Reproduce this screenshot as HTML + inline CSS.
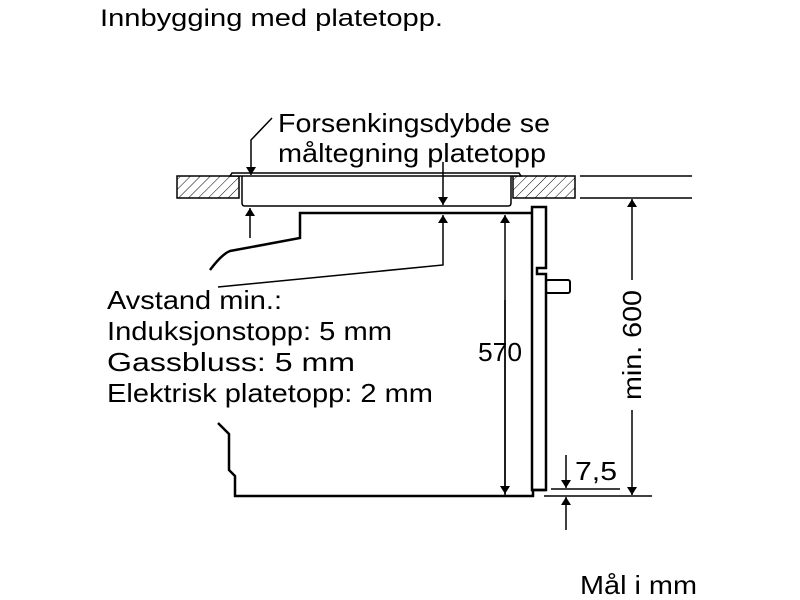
<!DOCTYPE html>
<html><head><meta charset="utf-8"><style>body{margin:0;background:#fff}svg{display:block}</style></head>
<body>
<svg width="800" height="600" viewBox="0 0 800 600" xmlns="http://www.w3.org/2000/svg" font-family="Liberation Sans, sans-serif" fill="#000">
<defs>
<pattern id="h" width="7" height="7" patternUnits="userSpaceOnUse" patternTransform="rotate(45)">
<rect width="7" height="7" fill="#fff"/><line x1="0" y1="0" x2="0" y2="7" stroke="#000" stroke-width="1"/>
</pattern>
<marker id="a" markerWidth="8" markerHeight="12" refX="8" refY="6" orient="auto" markerUnits="userSpaceOnUse"><path d="M0,1 L8,6 L0,11 z"/></marker>
</defs>
<g>
<text x="100" y="26" font-size="24" textLength="343" lengthAdjust="spacingAndGlyphs">Innbygging med platetopp.</text>
<text x="278" y="132" font-size="26" textLength="272" lengthAdjust="spacingAndGlyphs">Forsenkingsdybde se</text>
<text x="278" y="162" font-size="26" textLength="268" lengthAdjust="spacingAndGlyphs">måltegning platetopp</text>
<text x="107" y="309" font-size="26" textLength="175" lengthAdjust="spacingAndGlyphs">Avstand min.:</text>
<text x="107" y="340" font-size="26" textLength="285" lengthAdjust="spacingAndGlyphs">Induksjonstopp: 5 mm</text>
<text x="107" y="371" font-size="26" textLength="248" lengthAdjust="spacingAndGlyphs">Gassbluss: 5 mm</text>
<text x="107" y="402" font-size="26" textLength="326" lengthAdjust="spacingAndGlyphs">Elektrisk platetopp: 2 mm</text>
<text x="478" y="361" font-size="26" textLength="44" lengthAdjust="spacingAndGlyphs">570</text>
<text x="575" y="480" font-size="26" textLength="42" lengthAdjust="spacingAndGlyphs">7,5</text>
<text transform="translate(641,400) rotate(-90)" font-size="26" textLength="110" lengthAdjust="spacingAndGlyphs">min. 600</text>
<text x="580" y="594" font-size="26" textLength="117" lengthAdjust="spacingAndGlyphs">Mål i mm</text>
</g>
<g fill="none" stroke="#000">
<rect x="177" y="176" width="62" height="22" fill="url(#h)" stroke-width="1.5"/>
<rect x="513" y="176" width="62" height="22" fill="url(#h)" stroke-width="1.5"/>
<line x1="580" y1="176" x2="692" y2="176" stroke-width="1.5"/>
<line x1="580" y1="198" x2="692" y2="198" stroke-width="1.5"/>
<path d="M230,176 L232,173 L519,173 L521,176 Z" stroke-width="1.5" fill="#fff"/>
<path d="M242,176 L242,203 Q242,206 245,206 L508,206 Q511,206 511,203 L511,176" stroke-width="1.5"/>
<path d="M531,213 L300,213 L300,238 L230,251 Q222,254 210,270" stroke-width="2.5"/>
<path d="M532,207 L546,207 L546,268 L537,268 L537,274 L546,274 L546,490 L532,490 Z" stroke-width="2.5" fill="#fff"/>
<rect x="546" y="280" width="24" height="13" rx="2" stroke-width="2"/>
<path d="M218,423 L229,434 L229,470 L235,476 L235,496 L533,496 L533,490 L546,490" stroke-width="2.5"/>
<line x1="544" y1="496" x2="652" y2="496" stroke-width="1.5"/>
<line x1="551" y1="489" x2="620" y2="489" stroke-width="1.5"/>
<g stroke-width="1.5">
<path d="M272,118 L251,140 L251,175" marker-end="url(#a)"/>
<line x1="250" y1="238" x2="250" y2="208" marker-end="url(#a)"/>
<line x1="443" y1="162" x2="443" y2="205" marker-end="url(#a)"/>
<path d="M218,287 L443,265 L443,215" marker-end="url(#a)"/>
<line x1="505" y1="496" x2="505" y2="215" marker-end="url(#a)"/>
<line x1="505" y1="300" x2="505" y2="494" marker-end="url(#a)"/>
<line x1="632" y1="280" x2="632" y2="199" marker-end="url(#a)"/>
<line x1="632" y1="410" x2="632" y2="495" marker-end="url(#a)"/>
<line x1="566" y1="455" x2="566" y2="488" marker-end="url(#a)"/>
<line x1="566" y1="530" x2="566" y2="497" marker-end="url(#a)"/>
</g>
</g>
</svg>
</body></html>
